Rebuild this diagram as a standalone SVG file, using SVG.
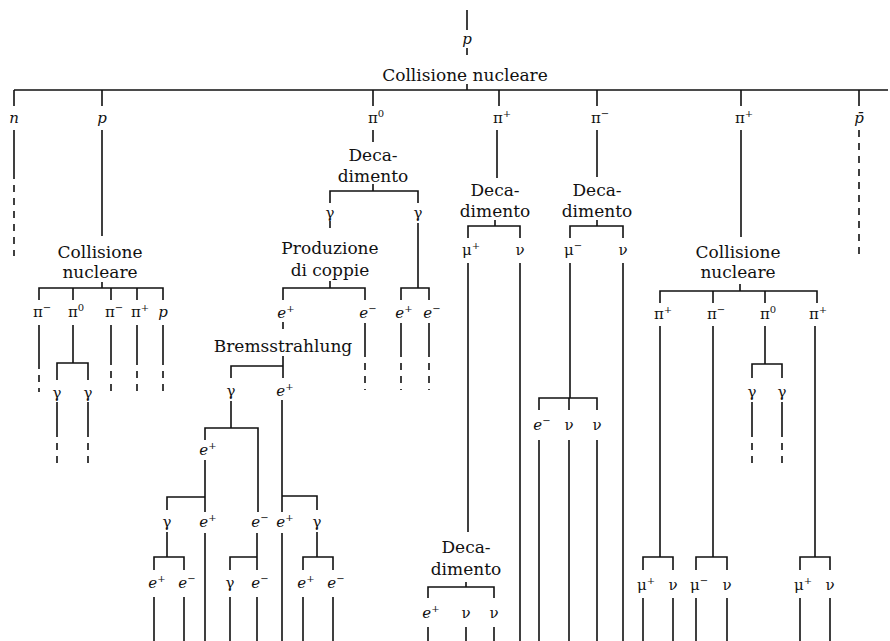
<svg xmlns="http://www.w3.org/2000/svg" width="890" height="641" viewBox="0 0 890 641">
<style>
.l{stroke:#111;stroke-width:1.6;fill:none}
.d{stroke-dasharray:7 6}
text{font-family:"DejaVu Serif","Liberation Serif",serif;fill:#111;text-anchor:middle}
.t{font-size:17px}
.s{font-size:15px}
.i{font-style:italic}
.u{font-size:10px}
</style>
<rect width="890" height="641" fill="#fff"/>
<g id="connectors">
<path class="l" d="M467 10V30M467 84V90M14 90H888M14 90V106M102 90V106M373 90V106M499 90V106M597 90V106M741 90V106M859 90V106"/>
<path class="l d" d="M467 48V58"/>
<path class="l" d="M14 130V172M102 130V236M373 130V142M497 130V178M597 130V177M741 130V237"/>
<path class="l d" d="M14 172V256M859 130V256"/>
<path class="l" d="M373 184V191M330 203V191H418V203"/>
<path class="l d" d="M330 221V232"/>
<path class="l" d="M330 281V288M283 300V288H365V300M418 223V288M401 300V288H429V300"/>
<path class="l" d="M365 323V350M401 323V350M429 323V350"/>
<path class="l d" d="M365 350V390M401 350V390M429 350V390M283 322V332"/>
<path class="l" d="M283 356V366M231 378V366H283V378M231 401V428M205 440V428H258V512M205 460V512M167 510V497H205M282 400V512M282 496H317V510"/>
<path class="l" d="M167 532V557M154 570V557H184V570M205 533V641M257 533V570M230 570V557H257M282 533V641M317 532V557M303 570V557H333V570"/>
<path class="l" d="M154 597V641M184 597V641M230 597V641M257 597V641M303 597V641M333 597V641"/>
<path class="l" d="M102 282V288M39 300V288H163V300M73 288V300M111 288V300M137 288V300"/>
<path class="l" d="M39 325V362M73 325V363M57 380V363H88V380M57 402V430M88 402V430M111 325V358M137 325V358M163 325V358"/>
<path class="l d" d="M39 362V392M57 430V465M88 430V465M111 358V392M137 358V392M163 358V392"/>
<path class="l" d="M495 220V226M468 238V226H520V238M597 220V226M570 238V226H623V238"/>
<path class="l" d="M468 263V532M520 263V641M570 263V398M539 410V398H597V410M569 398V410M539 440V641M569 440V641M597 440V641M623 263V641"/>
<path class="l" d="M466 582V587M428 598V587H494V598M428 627V641M466 627V641M494 627V641"/>
<path class="l" d="M740 284V291M660 303V291H817V303M713 291V303M765 291V303"/>
<path class="l" d="M660 326V557M643 570V557H673V570M643 598V641M673 598V641M713 326V557M696 570V557H727V570M696 598V641M727 598V641M765 326V364M752 378V364H782V378M752 402V430M782 402V430M815 326V557M800 570V557H830V570M800 598V641M830 598V641"/>
<path class="l d" d="M752 430V467M782 430V467"/>
</g>
<g id="p-top"><text class="s i" x="467" y="44">p</text></g>
<g id="collisione-top"><text class="t" x="465" y="81">Collisione nucleare</text></g>
<g id="n"><text class="s i" x="14" y="123">n</text></g>
<g id="p1"><text class="s i" x="102" y="123">p</text></g>
<g id="pi0"><text class="s" x="376" y="123">π<tspan class="u" dy="-6">0</tspan></text></g>
<g id="pip"><text class="s" x="502" y="123">π<tspan class="u" dy="-6">+</tspan></text></g>
<g id="pim"><text class="s" x="600" y="123">π<tspan class="u" dy="-6">−</tspan></text></g>
<g id="pip2"><text class="s" x="744" y="123">π<tspan class="u" dy="-6">+</tspan></text></g>
<g id="pbar"><text class="s i" x="859" y="123">p̄</text></g>
<g id="coll1"><text class="t" x="100" y="258">Collisione<tspan x="100" dy="20">nucleare</tspan></text></g>
<g id="coll1-pim"><text class="s" x="42" y="317">π<tspan class="u" dy="-6">−</tspan></text></g>
<g id="coll1-pi0"><text class="s" x="76" y="317">π<tspan class="u" dy="-6">0</tspan></text></g>
<g id="coll1-pim2"><text class="s" x="114" y="317">π<tspan class="u" dy="-6">−</tspan></text></g>
<g id="coll1-pip"><text class="s" x="140" y="317">π<tspan class="u" dy="-6">+</tspan></text></g>
<g id="coll1-p"><text class="s i" x="163" y="317">p</text></g>
<g id="coll1-g1"><text class="s" x="57" y="398">γ</text></g>
<g id="coll1-g2"><text class="s" x="88" y="398">γ</text></g>
<g id="dec-pi0"><text class="t" x="373" y="161">Deca-<tspan x="373" dy="21">dimento</tspan></text></g>
<g id="g-left"><text class="s" x="330" y="218">γ</text></g>
<g id="g-right"><text class="s" x="418" y="218">γ</text></g>
<g id="produzione"><text class="t" x="330" y="254">Produzione<tspan x="330" dy="22">di coppie</tspan></text></g>
<g id="pc-ep"><text class="s i" x="286" y="318">e<tspan class="u" dy="-6">+</tspan></text></g>
<g id="pc-em"><text class="s i" x="368" y="318">e<tspan class="u" dy="-6">−</tspan></text></g>
<g id="pc2-ep"><text class="s i" x="404" y="318">e<tspan class="u" dy="-6">+</tspan></text></g>
<g id="pc2-em"><text class="s i" x="432" y="318">e<tspan class="u" dy="-6">−</tspan></text></g>
<g id="brems"><text class="t" x="283" y="352">Bremsstrahlung</text></g>
<g id="b-g"><text class="s" x="231" y="396">γ</text></g>
<g id="b-ep"><text class="s i" x="285" y="396">e<tspan class="u" dy="-6">+</tspan></text></g>
<g id="l2-ep"><text class="s i" x="208" y="455">e<tspan class="u" dy="-6">+</tspan></text></g>
<g id="l3-g"><text class="s" x="167" y="527">γ</text></g>
<g id="l3-ep"><text class="s i" x="208" y="527">e<tspan class="u" dy="-6">+</tspan></text></g>
<g id="l3-em"><text class="s i" x="260" y="527">e<tspan class="u" dy="-6">−</tspan></text></g>
<g id="l3-ep2"><text class="s i" x="285" y="527">e<tspan class="u" dy="-6">+</tspan></text></g>
<g id="l3-g2"><text class="s" x="317" y="527">γ</text></g>
<g id="l4-ep"><text class="s i" x="157" y="588">e<tspan class="u" dy="-6">+</tspan></text></g>
<g id="l4-em"><text class="s i" x="187" y="588">e<tspan class="u" dy="-6">−</tspan></text></g>
<g id="l4-g"><text class="s" x="230" y="588">γ</text></g>
<g id="l4-em2"><text class="s i" x="260" y="588">e<tspan class="u" dy="-6">−</tspan></text></g>
<g id="l4-ep2"><text class="s i" x="306" y="588">e<tspan class="u" dy="-6">+</tspan></text></g>
<g id="l4-em3"><text class="s i" x="336" y="588">e<tspan class="u" dy="-6">−</tspan></text></g>
<g id="dec-pip"><text class="t" x="495" y="196">Deca-<tspan x="495" dy="21">dimento</tspan></text></g>
<g id="mup"><text class="s" x="471" y="255">μ<tspan class="u" dy="-6">+</tspan></text></g>
<g id="nu1"><text class="s" x="520" y="255">ν</text></g>
<g id="dec-pim"><text class="t" x="597" y="196">Deca-<tspan x="597" dy="21">dimento</tspan></text></g>
<g id="mum"><text class="s" x="573" y="255">μ<tspan class="u" dy="-6">−</tspan></text></g>
<g id="nu2"><text class="s" x="623" y="255">ν</text></g>
<g id="mum-em"><text class="s i" x="542" y="430">e<tspan class="u" dy="-6">−</tspan></text></g>
<g id="mum-nu1"><text class="s" x="569" y="430">ν</text></g>
<g id="mum-nu2"><text class="s" x="597" y="430">ν</text></g>
<g id="dec-mup"><text class="t" x="466" y="553">Deca-<tspan x="466" dy="22">dimento</tspan></text></g>
<g id="mup-ep"><text class="s i" x="431" y="618">e<tspan class="u" dy="-6">+</tspan></text></g>
<g id="mup-nu1"><text class="s" x="466" y="618">ν</text></g>
<g id="mup-nu2"><text class="s" x="494" y="618">ν</text></g>
<g id="coll2"><text class="t" x="738" y="258">Collisione<tspan x="738" dy="20">nucleare</tspan></text></g>
<g id="coll2-pip"><text class="s" x="663" y="319">π<tspan class="u" dy="-6">+</tspan></text></g>
<g id="coll2-pim"><text class="s" x="716" y="319">π<tspan class="u" dy="-6">−</tspan></text></g>
<g id="coll2-pi0"><text class="s" x="768" y="319">π<tspan class="u" dy="-6">0</tspan></text></g>
<g id="coll2-pip2"><text class="s" x="818" y="319">π<tspan class="u" dy="-6">+</tspan></text></g>
<g id="coll2-g1"><text class="s" x="752" y="397">γ</text></g>
<g id="coll2-g2"><text class="s" x="782" y="397">γ</text></g>
<g id="c2-mup"><text class="s" x="646" y="590">μ<tspan class="u" dy="-6">+</tspan></text></g>
<g id="c2-nu1"><text class="s" x="673" y="590">ν</text></g>
<g id="c2-mum"><text class="s" x="699" y="590">μ<tspan class="u" dy="-6">−</tspan></text></g>
<g id="c2-nu2"><text class="s" x="727" y="590">ν</text></g>
<g id="c2-mup2"><text class="s" x="803" y="590">μ<tspan class="u" dy="-6">+</tspan></text></g>
<g id="c2-nu3"><text class="s" x="830" y="590">ν</text></g>
</svg>
